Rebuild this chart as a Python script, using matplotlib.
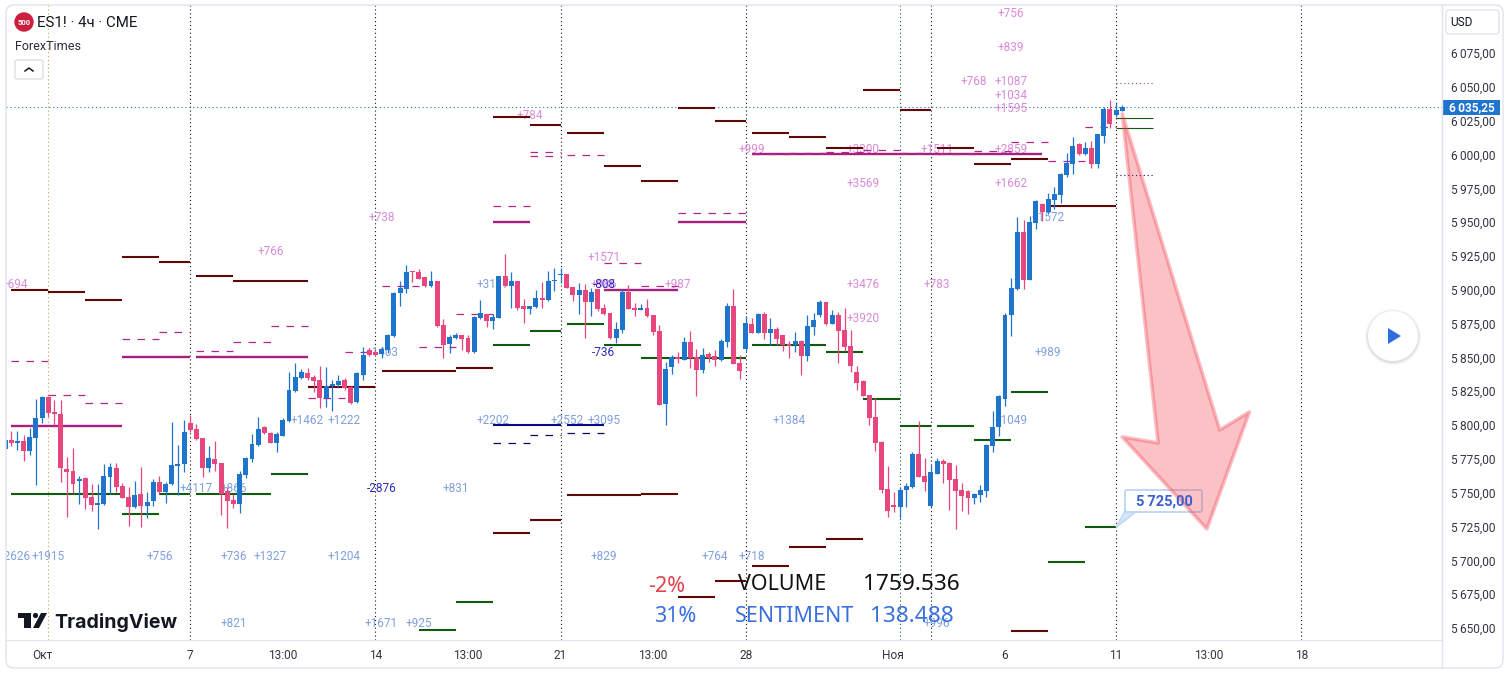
import numpy as np
import matplotlib
matplotlib.use("Agg")
import matplotlib.pyplot as plt
from matplotlib.patches import Circle, FancyBboxPatch, Polygon, Rectangle

plt.rcParams["font.family"] = ["Roboto", "DejaVu Sans"]

# 4h candles, one value per bar
opens = [5782.6, 5789, 5787, 5788.2, 5781.1, 5790.7, 5805.2, 5820.8, 5809.7, 5808.2,
         5767.5, 5766, 5758.9, 5760.9, 5746.8, 5741.2, 5741.7, 5761.9, 5768.3, 5755,
         5746.8, 5739.4, 5749, 5740.4, 5744.1, 5757.9, 5750.5, 5756.4, 5770, 5771.5,
         5801.3, 5796.8, 5790.2, 5768.5, 5774.9, 5772, 5751, 5744.6, 5741.9, 5763.3,
         5775.2, 5785.5, 5798.6, 5794.1, 5787, 5791.9, 5803, 5825.4, 5835, 5838.2,
         5835.3, 5833.3, 5820.3, 5828.9, 5829.4, 5833.3, 5827.9, 5817.1, 5837, 5855.5,
         5854.3, 5852.5, 5855.5, 5865.8, 5897.9, 5900.8, 5913.9, 5913.1, 5909.7, 5902.8,
         5906.5, 5874, 5859.9, 5864.4, 5866.3, 5864.4, 5854, 5879.1, 5881.9, 5877.2,
         5879.4, 5910.2, 5902.8, 5906.5, 5888, 5886, 5887.3, 5893.9, 5892.4, 5906.5,
         5911.2, 5911.7, 5902, 5896.1, 5899.8, 5891, 5900.6, 5886.5, 5882.8, 5864.1,
         5870.3, 5898.4, 5886.5, 5885.3, 5886.5, 5881.1, 5869.5, 5815.6, 5842.9, 5850.6,
         5848.1, 5861.4, 5850.1, 5840.7, 5852.5, 5851, 5848.1, 5861.4, 5888, 5845.9,
         5855.9, 5874.7, 5868.3, 5882.1, 5868.3, 5870.7, 5866.3, 5859.9, 5858.9, 5861.9,
         5851, 5872.7, 5881.3, 5890.9, 5874.7, 5881.1, 5870.2, 5858.4, 5839.2, 5832.5,
         5822.2, 5805.9, 5787.4, 5752.7, 5740.9, 5739.6, 5752, 5754.4, 5778.6, 5762.3,
         5740.1, 5763.8, 5773.2, 5771.9, 5759.9, 5751.7, 5751.2, 5746.3, 5748.5, 5751.5,
         5784.7, 5798.5, 5819, 5881.3, 5900.8, 5942.7, 5907.5, 5949.6, 5963.4, 5957.7,
         5966.3, 5970, 5984.8, 5993, 6007.8, 6000.4, 6004.8, 5993, 6013.7, 6033.6,
         6029.2, 6032.1]
highs = [5789, 5795.6, 5795.6, 5792.7, 5797.6, 5819.5, 5821.5, 5821.5, 5818.5, 5818.5,
         5776.2, 5783, 5762.4, 5761.9, 5756.4, 5756.4, 5771.2, 5771.7, 5772.2, 5756.9,
         5754.5, 5758.7, 5768.8, 5750.8, 5759.9, 5762.4, 5758.2, 5802.3, 5785.3, 5803.8,
         5807.4, 5800.8, 5790.2, 5784.5, 5788.2, 5772, 5754.5, 5748.8, 5766.1, 5776.6,
         5793.4, 5805.7, 5799.3, 5795.1, 5795.1, 5805, 5839.2, 5845.6, 5841.2, 5841.9,
         5837, 5843.7, 5842.7, 5833.3, 5837, 5834.5, 5828.9, 5839.5, 5858, 5856.7,
         5856, 5858, 5867.1, 5898.6, 5906.2, 5918.3, 5913.9, 5915.4, 5909.7, 5913.9,
         5906.5, 5878.2, 5866.6, 5867.8, 5866.6, 5866.6, 5880.4, 5892.4, 5881.9, 5882.1,
         5910.2, 5926.5, 5912.9, 5906.5, 5892.9, 5888, 5899.8, 5905.8, 5914.1, 5915.9,
         5915.9, 5911.7, 5902, 5904.8, 5904.3, 5901, 5900.6, 5889.5, 5882.8, 5875.9,
         5899.8, 5903.5, 5890, 5889.5, 5892.9, 5881.4, 5874, 5846.9, 5851.8, 5854.3,
         5865.3, 5869.8, 5856, 5856.7, 5854.3, 5855.5, 5863.6, 5890, 5900.3, 5851.8,
         5880.6, 5879.4, 5883, 5883.3, 5878.9, 5872.2, 5866.3, 5862.1, 5868.5, 5862.8,
         5881.3, 5882.6, 5892.4, 5890.9, 5885, 5883.8, 5886.3, 5870.2, 5843.6, 5833.3,
         5822.2, 5819.7, 5788, 5769.7, 5750.2, 5754.4, 5757.4, 5779.8, 5803, 5775.9,
         5770.4, 5775.4, 5774.6, 5772.7, 5770.4, 5756.9, 5752, 5749.5, 5755.7, 5786,
         5810.4, 5822.2, 5882.6, 5908.4, 5953.5, 5951.6, 5954.5, 5966.3, 5964.4, 5971.8,
         5975.7, 5986.6, 6001.3, 6013.2, 6008.2, 6009.5, 6010, 6015.1, 6035.4, 6040.3,
         6037.8, 6036.3]
lows = [5782.6, 5784.5, 5781.6, 5773.7, 5778.1, 5755.7, 5801.3, 5806.2, 5800, 5758.2,
        5732.3, 5749.5, 5741.7, 5738.2, 5736.7, 5723.4, 5740.9, 5749, 5750.8, 5745.8,
        5725.6, 5738.4, 5724.9, 5731.1, 5740.4, 5748.8, 5742.6, 5755.7, 5748.6, 5765.6,
        5795.1, 5789, 5761.9, 5765.6, 5766.3, 5733.5, 5724.2, 5738.4, 5735.2, 5760.6,
        5773, 5784.5, 5793.4, 5786.5, 5780.1, 5791.9, 5802.5, 5824.7, 5833.8, 5833.3,
        5824.7, 5812.4, 5813.6, 5810.6, 5828.4, 5825.9, 5815.6, 5816.6, 5833.3, 5851,
        5851.5, 5849.8, 5853, 5865.3, 5888, 5897.9, 5906, 5907.7, 5902.3, 5902.3,
        5872.2, 5849.8, 5853.5, 5863.9, 5855.5, 5853, 5853.5, 5878.2, 5872.2, 5871.3,
        5878.9, 5902.8, 5886.3, 5885, 5875.7, 5882.1, 5886.3, 5886.3, 5891.5, 5899.3,
        5904.8, 5901.1, 5892, 5882.1, 5864.6, 5880.6, 5884.6, 5881.4, 5863.4, 5860.9,
        5868.3, 5885.8, 5880.6, 5885, 5879.6, 5866.6, 5814.8, 5800, 5837.8, 5846.1,
        5848.1, 5842, 5821.5, 5838.2, 5846.9, 5843.7, 5847.4, 5858, 5845.1, 5834,
        5855, 5867.8, 5868.3, 5863.8, 5859.4, 5859.2, 5855, 5849.8, 5854, 5837.2,
        5847.6, 5866.6, 5880.1, 5874.2, 5874.7, 5845.6, 5855, 5839.4, 5825.9, 5821.5,
        5800, 5781, 5750, 5732.3, 5736, 5731.5, 5739.6, 5753.2, 5761.8, 5751.5,
        5739.2, 5763.8, 5757.4, 5737.2, 5723.4, 5736.7, 5734.2, 5741.6, 5743.3, 5747,
        5780.3, 5791.9, 5814, 5866, 5900, 5900.8, 5907, 5944.9, 5950.8, 5956,
        5959.4, 5964.4, 5983.6, 5985.6, 5999.6, 5999.6, 5990.3, 5990.3, 6008.7, 6019.6,
        6028, 6032]
closes = [5789, 5787, 5788.2, 5781.1, 5791, 5805, 5820.8, 5809.2, 5808.2, 5768.5,
          5765.6, 5756.7, 5760.1, 5746.3, 5740.9, 5742.1, 5762.4, 5768.8, 5754.2, 5746.3,
          5739.4, 5748.3, 5740.4, 5743.1, 5757.9, 5750.5, 5756.4, 5770.2, 5771, 5794.9,
          5796.6, 5789.9, 5768.5, 5775.4, 5771.5, 5748.8, 5743.9, 5741.9, 5763.6, 5775.4,
          5786, 5796.8, 5794.4, 5787, 5793.4, 5803.7, 5825.7, 5835.3, 5839, 5835,
          5832.8, 5819.8, 5828.9, 5830.4, 5832.3, 5827.4, 5816.6, 5838.5, 5852, 5851.8,
          5852, 5856.2, 5866.6, 5897.9, 5901.3, 5913.1, 5913.1, 5908, 5902.8, 5906.5,
          5873.2, 5859.2, 5865.1, 5866.3, 5863.6, 5854, 5879.6, 5882.6, 5877.2, 5879.6,
          5910.2, 5902.8, 5906.2, 5886.5, 5886, 5888, 5893.9, 5892.4, 5906.2, 5907.2,
          5911.9, 5901.6, 5896.1, 5899.8, 5891, 5898.6, 5885.8, 5882.1, 5864.1, 5871,
          5898.4, 5885.8, 5885.3, 5886.3, 5880.6, 5868.8, 5814.8, 5841.4, 5850.1, 5848.6,
          5861.4, 5849.8, 5840.7, 5851.5, 5849.3, 5848.1, 5862.1, 5888, 5845.1, 5840,
          5875.2, 5868.3, 5882.1, 5868.3, 5870.7, 5863.3, 5858.9, 5858.4, 5861.9, 5851,
          5873.2, 5877.6, 5890.9, 5874.7, 5881.1, 5869.5, 5857.9, 5843.6, 5831.3, 5821.5,
          5805.4, 5787, 5752, 5736.4, 5739.6, 5752, 5754.9, 5778.6, 5761.8, 5758.1,
          5765.3, 5773.2, 5771.4, 5759.6, 5751.5, 5747.8, 5746.3, 5748.8, 5752, 5785.2,
          5798.5, 5821.5, 5881.3, 5901, 5942.7, 5907.5, 5950, 5965.6, 5957.7, 5966.8,
          5970.8, 5985.6, 5993.5, 6006.3, 6000.4, 6004.6, 5993, 6015.1, 6033.6, 6022.5,
          6032.9, 6035.25]

# indicator levels: start bar, end bar, price
maroon_starts = [1, 7, 13, 19, 25, 31, 37, 49, 61, 73, 79, 85, 91, 97, 103, 109, 115, 121, 127, 133, 139, 145, 151, 157, 163, 169,
                 79, 85, 91, 103, 109, 115, 121, 127, 133, 163]
maroon_ends = [7, 13, 19, 25, 30, 37, 49, 60, 73, 79, 85, 90, 97, 103, 109, 115, 120, 127, 133, 139, 145, 150, 157, 163, 169, 180,
               85, 90, 103, 109, 115, 120, 127, 133, 139, 169]
maroon_prices = [5899.8, 5898.3, 5892.4, 5924.2, 5920.5, 5910.2, 5906.5, 5828.1, 5840, 5842.2, 6027.7, 6021.8, 6015.9, 5991.5,
                 5980.4, 6034.3, 6024.7, 6015.9, 6012.9, 6004.8, 6047.7, 6032.9, 6004.8, 5993, 5996.7, 5962.1,
                 5720.2, 5729.8, 5748.3, 5749, 5672.9, 5684.4, 5695.8, 5709.9, 5715.8, 5647.8]

green_starts = [1, 19, 25, 31, 43, 67, 73, 79, 85, 91, 97, 103, 121, 133, 139, 145, 151, 157, 163, 169, 175]
green_ends = [19, 25, 30, 43, 49, 73, 79, 85, 90, 97, 103, 120, 133, 139, 145, 150, 157, 163, 169, 175, 180]
green_prices = [5749, 5734.3, 5749, 5749, 5763.8, 5648.5, 5669.2, 5859.4, 5869.8, 5874.9, 5859.4, 5849.8, 5859.4, 5854.2,
                5819.5, 5799.5, 5799.5, 5789.2, 5824.4, 5698.8, 5724.7]

purple_starts = [1, 19, 31, 79, 97, 109, 121]
purple_ends = [19, 30, 49, 85, 109, 120, 168]
purple_prices = [5799.5, 5850, 5850, 5950, 5900, 5950, 6000]

navy_starts = [79, 91]
navy_ends = [90, 97]
navy_prices = [5800, 5800]

dash_starts = [1, 7, 13, 19, 25, 31, 37, 43, 49, 55, 61, 67, 73, 79, 85, 85, 91, 97, 103, 109, 121, 127, 133, 139, 145, 151, 157, 163, 169, 175]
dash_ends = [7, 13, 19, 25, 30, 37, 43, 49, 55, 60, 67, 73, 79, 85, 90, 90, 97, 103, 109, 120, 127, 133, 139, 145, 150, 157, 163, 169, 175, 180]
dash_prices = [5847.4, 5822.2, 5816.3, 5863.6, 5868.8, 5854.7, 5861.4, 5873.2, 5820, 5854, 5902.8, 5857.9, 5882.1, 5961.9,
               6001.5, 5999.2, 5999.6, 5919.8, 5902.8, 5956.7, 6000.3, 6001.3, 6002, 6003.3, 6001.3, 6000.5, 6002.6, 6009, 5995.2, 6020.3]

navy_dash_starts = [79, 85, 91]
navy_dash_ends = [85, 90, 97]
navy_dash_prices = [5786.8, 5792.7, 5794.1]

# delta labels
pink_labels = ["+694", "+738", "+766", "+784", "+1571", "+986", "+987", "+3476", "+783", "+3920", "+3569", "+3300", "+1511",
               "+999", "+2859", "+1662", "+1595", "+1034", "+1087", "+839", "+756", "+768"]
pink_bars = [1.5, 61, 43, 85, 97, 97, 109, 139, 151, 139, 139, 139, 151, 121, 163, 163, 163, 163, 163, 163, 163, 157]
pink_prices = [5905, 5954.5, 5929.4, 6030, 5925, 5905, 5905, 5905, 5905, 5879.9, 5979.7, 6004.8, 6004.8, 6004.8, 6004.8,
               5979.7, 6035, 6044.7, 6055, 6080.2, 6105.3, 6055]

blue_labels = ["+2626", "+1915", "+756", "+736", "+1327", "+1204", "+1462", "+1222", "+4117", "+866", "+831", "+2202", "+2552",
               "+3095", "+829", "+764", "+718", "+821", "+1671", "+925", "+996", "+1384", "+989", "+1049", "+1572", "+1403", "+3117"]
blue_bars = [1.5, 7, 25, 37, 43, 55, 49, 55, 31, 37, 73, 79, 91, 97, 97, 115, 121, 37, 61, 67, 151, 127, 169, 163, 169, 61, 79]
blue_prices = [5704, 5704, 5704, 5704, 5704, 5704, 5804.5, 5804.5, 5754.2, 5754.2, 5754.2, 5804.5, 5804.5, 5804.5, 5704, 5704, 5704,
               5654.5, 5654.5, 5654.5, 5654.5, 5804.5, 5854.7, 5804.5, 5954.5, 5854.7, 5905]

navy_labels = ["-2876", "-736", "-808"]
navy_bars = [61, 97, 97]
navy_label_prices = [5754.2, 5854.7, 5905]

# axis
price_ticks = [5650, 5675, 5700, 5725, 5750, 5775, 5800, 5825, 5850, 5875, 5900, 5925, 5950, 5975, 6000, 6025, 6050, 6075]
time_ticks = [6, 30, 45, 60, 75, 90, 105, 120, 143.9, 162, 180, 195, 210]
time_labels = ["Окт", "7", "13:00", "14", "13:00", "21", "13:00", "28", "Ноя", "6", "11", "13:00", "18"]
week_lines = [30, 60, 90, 120, 150, 180, 210]
last_price = 6035.25

# drawn arrow, bar and price of each corner
arrow_bars = [181, 186.8, 181, 194.7, 201.6, 196.8]
arrow_prices = [6030, 5786.8, 5791.2, 5723.2, 5809.7, 5796.4]

BLUE = "#1f74cc"
PINK = "#e8467f"
W, H = 1509, 677

fig = plt.figure(figsize=(W / 100, H / 100), dpi=100, facecolor="white")
ax = fig.add_axes([6 / W, 1 - 640 / H, (1442 - 6) / W, (640 - 5) / H])
ax.set_xlim(0.146, 232.8)
ax.set_ylim(5641.1, 6110.5)
for side in ["left", "top"]:
    ax.spines[side].set_visible(False)
for side in ["right", "bottom"]:
    ax.spines[side].set_color("#e0e3eb")
ax.yaxis.tick_right()
ax.set_yticks(price_ticks)
ax.set_yticklabels([f"{p // 1000}\u2009{p % 1000:03d},00" for p in price_ticks])
ax.set_xticks(time_ticks)
ax.set_xticklabels(time_labels)
ax.tick_params(axis="y", length=0, pad=6.5, labelsize=8.6, labelcolor="#333640")
ax.tick_params(axis="x", length=0, pad=6.5, labelsize=8.6, labelcolor="#333640")

# vertical session lines
dots = (0, (1, 2.5))
ax.vlines(week_lines, 5641.1, 6110.5, color="#111111", lw=0.8, linestyles=[dots], zorder=1)
ax.vlines([145], 5641.1, 6110.5, color="#0f5a2a", lw=0.8, linestyles=[dots], zorder=1)
ax.vlines([7], 5641.1, 6110.5, color="#c9a24e", lw=0.8, linestyles=[dots], zorder=1)
ax.axhline(last_price, color="#1f7a9c", lw=0.8, ls=dots, zorder=1)

# labels go under everything
for labels, xs, ys, col in [(pink_labels, pink_bars, pink_prices, "#d98ad8"),
                            (blue_labels, blue_bars, blue_prices, "#7fa0de"),
                            (navy_labels, navy_bars, navy_label_prices, "#2c2cb8")]:
    for s, x, y in zip(labels, xs, ys):
        ax.annotate(s, (x, y), xytext=(0, -1), textcoords="offset points", color=col, fontsize=8.5,
                    ha="center", va="center", annotation_clip=True, clip_on=True, zorder=1.5)

ax.hlines(maroon_prices, maroon_starts, maroon_ends, color="#5e0808", lw=1.5, zorder=2)
ax.hlines(green_prices, green_starts, green_ends, color="#0f5a0f", lw=1.5, zorder=2)
ax.hlines(purple_prices, purple_starts, purple_ends, color="#a8207f", lw=1.7, zorder=2)
ax.hlines(navy_prices, navy_starts, navy_ends, color="#0a0a80", lw=1.5, zorder=2)
ax.hlines(dash_prices, dash_starts, dash_ends, color="#b0288a", lw=0.9, linestyles=[(0, (6, 6))], zorder=2)
ax.hlines(navy_dash_prices, navy_dash_starts, navy_dash_ends, color="#0a0a60", lw=0.9, linestyles=[(0, (6, 6))], zorder=2)
ax.hlines([6052.8], 180, 186, color="#a8387f", lw=0.8, linestyles=[dots], zorder=2)
ax.hlines([5985.2], 180, 186, color="#0a0a60", lw=0.8, linestyles=[dots], zorder=2)
ax.hlines([6027.3, 6019.9], 180, 186, color="#0f5a0f", lw=0.8, zorder=2)

# candles
o, hi, lo, c = map(np.array, (opens, highs, lows, closes))
bars = np.arange(len(o))
cols = [BLUE if b else PINK for b in c >= o]
ax.vlines(bars, lo, hi, color=cols, lw=0.9, zorder=3)
ax.bar(bars, np.maximum(np.abs(c - o), 0.6), bottom=np.minimum(o, c), width=0.8, color=cols, linewidth=0, zorder=3)

# overlay in picture pixels for the widgets
ov = fig.add_axes([0, 0, 1, 1], zorder=5)
ov.set_xlim(0, W)
ov.set_ylim(H, 0)
ov.axis("off")
ov.add_patch(FancyBboxPatch((6, 5), 1497, 663, boxstyle="round,pad=0,rounding_size=8", fc="none", ec="#e0e3eb", lw=1))
ov.plot([1442, 1442], [5, 668], color="#e0e3eb", lw=1)

# header
ov.add_patch(Circle((24, 22), 9, color="#cc1f3f"))
ov.text(24, 22.5, "500", color="white", fontsize=5.5, fontweight="bold", ha="center", va="center")
ov.text(37, 23, "ES1! · 4ч · CME", color="#131722", fontsize=10.8, ha="left", va="center")
ov.text(15, 46, "ForexTimes", color="#2a2e39", fontsize=9, ha="left", va="center")
ov.add_patch(FancyBboxPatch((15, 60), 28, 19, boxstyle="round,pad=0,rounding_size=2", fc="white", ec="#d6d8df", lw=0.8))
ov.plot([25, 29, 33], [71, 68, 71], color="#131722", lw=1.1)

# logo
ov.add_patch(Polygon([(18, 613), (31, 613), (31, 628), (24, 628), (24, 618), (18, 618)], color="#131722", lw=0))
ov.add_patch(Circle((35.5, 615.5), 2.6, color="#131722", lw=0))
ov.add_patch(Polygon([(41, 613), (47, 613), (39, 628), (33, 628)], color="#131722", lw=0))
ov.text(54, 622.5, "TradingView", color="#131722", fontsize=14.1, fontweight="bold", family=["Inter", "DejaVu Sans"],
        ha="left", va="center")

# price scale widgets
ov.add_patch(FancyBboxPatch((1446, 10), 53, 24, boxstyle="round,pad=0,rounding_size=3", fc="white", ec="#e0e3eb", lw=1))
ov.text(1450, 22, "USD", color="#131722", fontsize=8.6, ha="left", va="center")
ov.add_patch(Rectangle((1443, 100), 57, 15, color="#1e74cf", lw=0))
ov.text(1471.5, 107.5, f"{int(last_price) // 1000}\u2009{int(last_price) % 1000:03d},25", color="white", fontsize=8.6,
        fontweight="bold", ha="center", va="center")

# play button
for r, a in [(28, 0.03), (27, 0.04), (26, 0.05)]:
    ov.add_patch(Circle((1393, 337), r, color="black", alpha=a, lw=0))
ov.add_patch(Circle((1393, 336), 25, color="white", lw=0))
ov.add_patch(Polygon([(1388, 328), (1388, 344), (1401, 336)], color="#2f6fdb", lw=0))

# volume table
table_font = ["Noto Sans", "DejaVu Sans"]
ov.text(648, 587, "-2%", color="#e0434f", fontsize=15.5, family=table_font, ha="left", va="center")
ov.text(654, 617, "31%", color="#3a6fe0", fontsize=15.5, family=table_font, ha="left", va="center")
ov.text(738, 585, "VOLUME", color="#111111", fontsize=15.5, family=table_font, ha="left", va="center")
ov.text(863, 585, "1759.536", color="#111111", fontsize=16.3, family=table_font, ha="left", va="center")
ov.text(735, 617, "SENTIMENT", color="#3a6fe0", fontsize=15.5, family=table_font, ha="left", va="center")
ov.text(870, 617, "138.488", color="#3a6fe0", fontsize=16.3, family=table_font, ha="left", va="center")

# price note, arrow goes over it
ov.add_patch(Polygon([(1116, 527.5), (1125, 511), (1137, 511)], fc="#d5e6fa", ec="#bbd6f5", lw=1))
ov.add_patch(FancyBboxPatch((1125, 490), 77, 22, boxstyle="round,pad=0,rounding_size=2", fc="white", ec="#bbd6f5", lw=1.3))
ov.text(1164, 501.5, "5\u2009725,00", color="#3b5fd0", fontsize=10.5, fontweight="bold", ha="center", va="center")
ov.add_patch(Polygon(np.column_stack([arrow_bars, arrow_prices]), closed=True, transform=ax.transData,
                     fc=(0.95, 0.21, 0.27, 0.3), ec=(0.95, 0.21, 0.27, 0.33), lw=2.6, joinstyle="round"))

fig.savefig("out.png", dpi=100)
